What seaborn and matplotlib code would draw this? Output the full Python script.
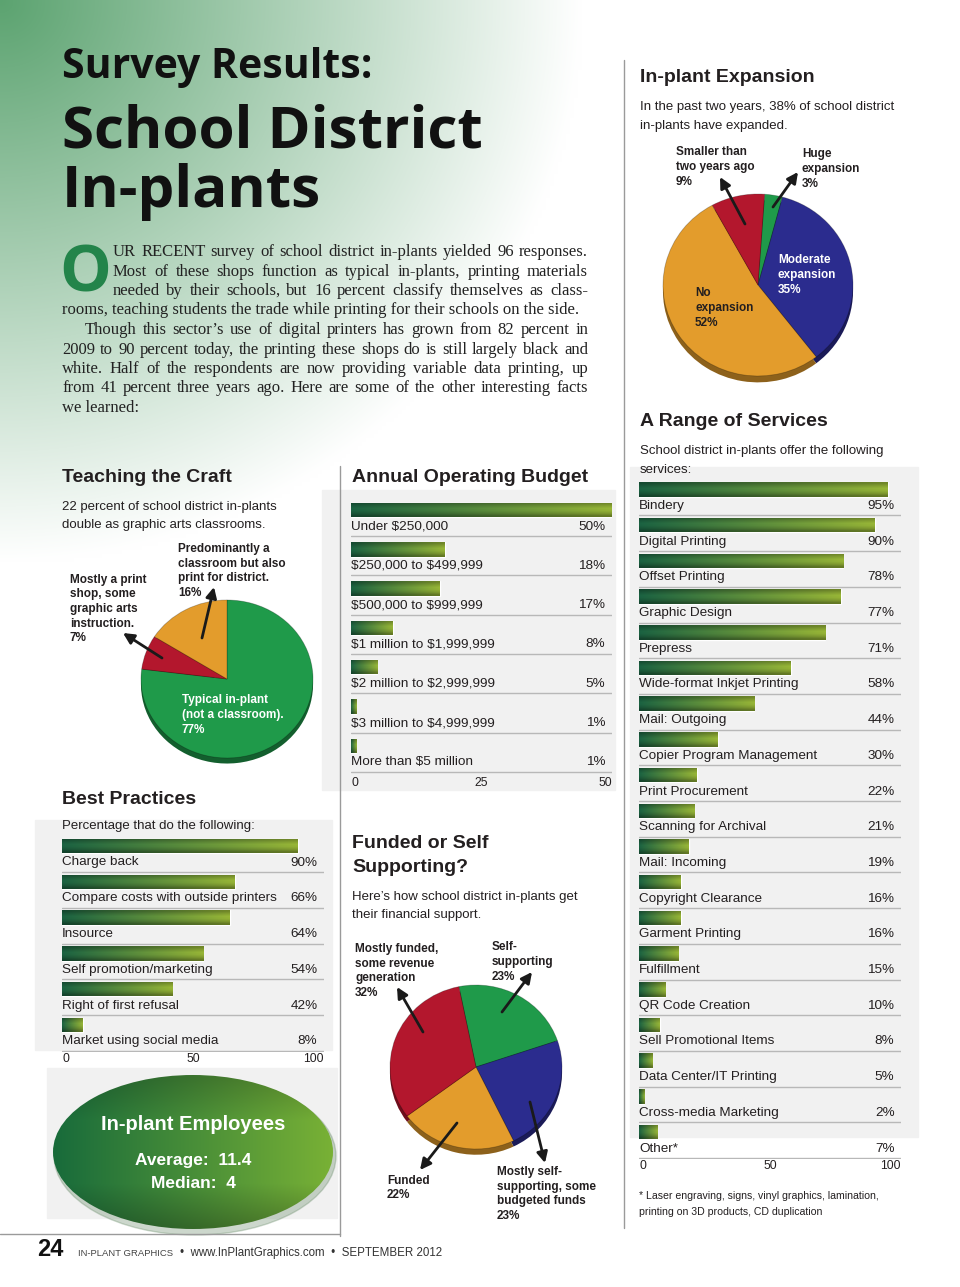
import numpy as np
import matplotlib
matplotlib.use("Agg")
import matplotlib.pyplot as plt
import matplotlib.transforms as mtransforms
import seaborn as sns
from matplotlib.patches import Rectangle, Ellipse

W, H = 960, 1287

# ---- data ----
expansion_labels = ["Huge expansion", "Moderate expansion", "No expansion", "Smaller than two years ago"]
expansion_values = [3, 35, 52, 9]

craft_labels = ["Typical in-plant", "Mostly a print shop", "Predominantly a classroom"]
craft_values = [77, 7, 16]

funding_labels = ["Self-supporting", "Mostly self-supporting", "Funded", "Mostly funded"]
funding_values = [23, 23, 22, 32]

budget_labels = ["Under $250,000", "$250,000 to $499,999", "$500,000 to $999,999",
                 "$1 million to $1,999,999", "$2 million to $2,999,999",
                 "$3 million to $4,999,999", "More than $5 million"]
budget_values = [50, 18, 17, 8, 5, 1, 1]
budget_ticks = [0, 25, 50]

practice_labels = ["Charge back", "Compare costs with outside printers", "Insource",
                   "Self promotion/marketing", "Right of first refusal", "Market using social media"]
practice_values = [90, 66, 64, 54, 42, 8]
practice_ticks = [0, 50, 100]

service_labels = ["Bindery", "Digital Printing", "Offset Printing", "Graphic Design", "Prepress",
                  "Wide-format Inkjet Printing", "Mail: Outgoing", "Copier Program Management",
                  "Print Procurement", "Scanning for Archival", "Mail: Incoming",
                  "Copyright Clearance", "Garment Printing", "Fulfillment", "QR Code Creation",
                  "Sell Promotional Items", "Data Center/IT Printing", "Cross-media Marketing", "Other*"]
service_values = [95, 90, 78, 77, 71, 58, 44, 30, 22, 21, 19, 16, 16, 15, 10, 8, 5, 2, 7]
service_ticks = [0, 50, 100]

sns.set_theme(style="white")
SANS = ["Liberation Sans", "DejaVu Sans"]
SERIF = ["Liberation Serif", "DejaVu Serif"]
DISPLAY = ["Open Sans", "DejaVu Sans"]
plt.rcParams["font.family"] = SANS
INK = "#231f20"

fig = plt.figure(figsize=(W / 100, H / 100), dpi=100)
renderer = fig.canvas.get_renderer()


def add_ax(x0, y0, x1, y1, z=1):
    return fig.add_axes([x0 / W, 1 - y1 / H, (x1 - x0) / W, (y1 - y0) / H], zorder=z)


# background with the green wash in the top-left corner
bg = add_ax(0, 0, W, H, z=0)
yy, xx = np.mgrid[0:H:4, 0:W:4]
d = np.sqrt((xx / 580.0) ** 2 + (yy / 560.0) ** 2)
a = np.clip(1 - d, 0, 1)
green = np.array([0.36, 0.64, 0.44])
img = 1 - a[..., None] * (1 - green)
bg.imshow(img, extent=[0, W, H, 0], aspect="auto", interpolation="bilinear")
for (x0, y0, w, h) in [(322, 490, 293, 300), (35, 820, 297, 230), (630, 467, 288, 670), (47, 1068, 290, 150)]:
    bg.add_patch(Rectangle((x0, y0), w, h, color="#f1f1f1", zorder=1))
bg.set_xlim(0, W)
bg.set_ylim(H, 0)
bg.axis("off")

ov = add_ax(0, 0, W, H, z=6)
ov.set_xlim(0, W)
ov.set_ylim(H, 0)
ov.patch.set_alpha(0)
ov.axis("off")


def T(x, y, s, size, family=SANS, weight="normal", color=INK, ha="left", va="center", **kw):
    return ov.text(x, y, s, fontsize=size, family=family, weight=weight, color=color, ha=ha, va=va,
                   parse_math=False, **kw)


def justify(x0, x1, y, line, size, family=SERIF, color="#222"):
    words = line.split(" ")
    texts = [T(0, y, w, size, family=family, color=color) for w in words]
    widths = [t.get_window_extent(renderer).width for t in texts]
    gap = (x1 - x0 - sum(widths)) / max(len(words) - 1, 1)
    x = x0
    for t, w in zip(texts, widths):
        t.set_x(x)
        x += w + gap


def arrow(x0, y0, x1, y1):
    ov.annotate("", xy=(x1, y1), xytext=(x0, y0),
                arrowprops=dict(arrowstyle="-|>", color="#1a1a1a", lw=2.0, mutation_scale=16,
                                shrinkA=0, shrinkB=0))


def bar_gradient(n=64):
    t = np.linspace(0, 1, n)
    c0 = np.array([0.10, 0.36, 0.24])
    c1 = np.array([0.55, 0.66, 0.20])
    row = c0[None, :] * (1 - t[:, None]) + c1[None, :] * t[:, None]
    shade = np.array([0.80, 0.95, 1.08, 1.05, 0.92, 0.72])
    return np.clip(shade[:, None, None] * row[None, :, :], 0, 1)


def bar_panel(x0, x1, first_bar_y, pitch, labels, values, xmax, ticks, size=9.7):
    n = len(labels)
    top = first_bar_y - 0.5 * pitch
    bottom = top + (n + 0.25) * pitch
    ax = add_ax(x0, top, x1, bottom, z=2)
    sns.barplot(x=values, y=labels, orient="h", width=14.5 / pitch, color="#3f7d3a", ax=ax)
    grad = bar_gradient()
    for p in ax.patches:
        im = ax.imshow(grad, extent=[p.get_x(), p.get_x() + p.get_width(),
                                     p.get_y() + p.get_height(), p.get_y()],
                       aspect="auto", interpolation="bilinear", zorder=3)
        im.set_clip_path(p)
    toff = 16.5 / pitch
    loff = 26 / pitch
    tr = mtransforms.blended_transform_factory(ax.transAxes, ax.transData)
    for i, (lab, v) in enumerate(zip(labels, values)):
        ax.text(0, i + toff, lab, ha="left", va="center", fontsize=size, color=INK, parse_math=False)
        ax.text(0.975, i + toff, f"{v}%", ha="right", va="center", fontsize=size,
                color=INK, transform=tr)
        ax.plot([0, xmax], [i + loff, i + loff], color="#b8b8b8", lw=1.0, zorder=2)
    ax.set_xlim(0, xmax)
    ax.set_ylim(n - 1 + 0.75, -0.5)
    ax.set_yticks([])
    ax.set_ylabel("")
    ax.set_xticks(ticks)
    ax.set_xticklabels([str(t) for t in ticks], fontsize=size - 1, color=INK)
    labs = ax.get_xticklabels()
    labs[0].set_ha("left")
    labs[-1].set_ha("right")
    ax.tick_params(axis="x", length=0, pad=1)
    for s in ax.spines.values():
        s.set_visible(False)
    ax.patch.set_alpha(0)
    return ax


def pie_panel(cx, cy, rx, ry, values, colors, start):
    # slightly flattened pies with a dark rim underneath, as on the printed page
    ax = add_ax(cx - rx * 1.1, cy - ry * 1.1, cx + rx * 1.1, cy + ry * 1.1, z=3)
    dark = [tuple(np.array(matplotlib.colors.to_rgb(c)) * 0.62) for c in colors]
    ax.pie(values, colors=dark, startangle=start, counterclock=False, center=(0, -0.07),
           wedgeprops=dict(linewidth=0))
    ax.pie(values, colors=colors, startangle=start, counterclock=False,
           wedgeprops=dict(linewidth=0.6, edgecolor=(0, 0, 0, 0.25)))
    ax.set_aspect("auto")
    ax.set_xlim(-1.1, 1.1)
    ax.set_ylim(-1.1, 1.1)
    ax.axis("off")
    return ax


def pie_note(x, y, s, color=INK):
    T(x, y, s, 8.5, weight="bold", color=color, linespacing=1.3)


RED, ORANGE, BLUE, GREEN = "#b3172d", "#e39c2c", "#2b2c8e", "#1f9a4a"
HEAD = 14

# ---- title and intro ----
T(62, 68, "Survey Results:", 29.5, family=DISPLAY, weight="bold", color="#111")
T(62, 133, "School District", 42, family=DISPLAY, weight="bold", color="#111")
T(62, 192, "In-plants", 42, family=DISPLAY, weight="bold", color="#111")

T(59, 292, "O", 47, family=DISPLAY, weight="bold", color="#23844a", va="baseline")
body = [
    (113, 588, "UR RECENT survey of school district in-plants yielded 96 responses."),
    (113, 588, "Most of these shops function as typical in-plants, printing materials"),
    (113, 588, "needed by their schools, but 16 percent classify themselves as class-"),
    (62, None, "rooms, teaching students the trade while printing for their schools on the side."),
    (85, 588, "Though this sector\u2019s use of digital printers has grown from 82 percent in"),
    (62, 588, "2009 to 90 percent today, the printing these shops do is still largely black and"),
    (62, 588, "white. Half of the respondents are now providing variable data printing, up"),
    (62, 588, "from 41 percent three years ago. Here are some of the other interesting facts"),
    (62, None, "we learned:"),
]
for k, (x, x_end, line) in enumerate(body):
    y = 252 + k * 19.5
    if x_end is None:
        T(x, y, line, 12, family=SERIF, color="#222")
    else:
        justify(x, x_end, y, line, 12)

# dividers and footer
ov.plot([624, 624], [60, 1228], color="#9a9a9a", lw=1.0)
ov.plot([340, 340], [466, 1236], color="#9a9a9a", lw=1.0)
ov.plot([0, 340], [1234, 1234], color="#9a9a9a", lw=1.0)
T(37, 1250, "24", 17, weight="bold", color="#111")
T(78, 1253, "IN-PLANT GRAPHICS", 6.8, color="#444")
T(180, 1253, "\u2022  www.InPlantGraphics.com  \u2022  SEPTEMBER 2012", 8.3, color="#333")

# ---- In-plant Expansion ----
T(640, 78, "In-plant Expansion", HEAD, weight="bold")
T(640, 107, "In the past two years, 38% of school district", 9.5)
T(640, 126, "in-plants have expanded.", 9.5)
pie_panel(758, 285, 95, 91, expansion_values, [GREEN, BLUE, ORANGE, RED], 86)
pie_note(676, 167, "Smaller than\ntwo years ago\n9%")
pie_note(802, 169, "Huge\nexpansion\n3%")
pie_note(778, 275, "Moderate\nexpansion\n35%", color="white")
pie_note(695, 308, "No\nexpansion\n52%")
arrow(745, 224, 720, 177)
arrow(773, 207, 798, 172)

# ---- Teaching the Craft ----
T(62, 478, "Teaching the Craft", HEAD, weight="bold")
T(62, 507, "22 percent of school district in-plants", 9.5)
T(62, 525, "double as graphic arts classrooms.", 9.5)
pie_panel(227, 679, 86, 79, craft_values, [GREEN, RED, ORANGE], 90)
pie_note(178, 571, "Predominantly a\nclassroom but also\nprint for district.\n16%")
pie_note(70, 609, "Mostly a print\nshop, some\ngraphic arts\ninstruction.\n7%")
pie_note(182, 715, "Typical in-plant\n(not a classroom).\n77%", color="white")
arrow(202, 638, 214, 587)
arrow(162, 658, 123, 633)

# ---- Annual Operating Budget ----
T(352, 478, "Annual Operating Budget", HEAD, weight="bold")
bar_panel(351, 612, 510, 39.3, budget_labels, budget_values, 50, budget_ticks)

# ---- Best Practices ----
T(62, 800, "Best Practices", HEAD, weight="bold")
T(62, 826, "Percentage that do the following:", 9.5)
bar_panel(62, 324, 846, 35.8, practice_labels, practice_values, 100, practice_ticks)

# ---- A Range of Services ----
T(640, 422, "A Range of Services", HEAD, weight="bold")
T(640, 451, "School district in-plants offer the following", 9.5)
T(640, 470, "services:", 9.5)
bar_panel(639, 901, 489.5, 35.7, service_labels, service_values, 100, service_ticks)
T(639, 1196, "* Laser engraving, signs, vinyl graphics, lamination,", 7.6)
T(639, 1212, "printing on 3D products, CD duplication", 7.6)

# ---- Funded or Self Supporting? ----
T(352, 843, "Funded or Self", HEAD, weight="bold")
T(352, 868, "Supporting?", HEAD, weight="bold")
T(352, 897, "Here\u2019s how school district in-plants get", 9.5)
T(352, 915, "their financial support.", 9.5)
pie_panel(476, 1067, 86, 82, funding_values, [GREEN, BLUE, ORANGE, RED], 101.5)
pie_note(355, 971, "Mostly funded,\nsome revenue\ngeneration\n32%")
pie_note(492, 962, "Self-\nsupporting\n23%")
pie_note(387, 1188, "Funded\n22%")
pie_note(497, 1194, "Mostly self-\nsupporting, some\nbudgeted funds\n23%")
arrow(423, 1032, 397, 987)
arrow(502, 1012, 532, 972)
arrow(457, 1123, 420, 1170)
arrow(530, 1102, 545, 1163)

# ---- In-plant Employees badge ----
t = np.linspace(0, 1, 128)
c0 = np.array([0.09, 0.40, 0.22])
c1 = np.array([0.45, 0.66, 0.20])
egrad = (c0[None, :] * (1 - t[:, None]) + c1[None, :] * t[:, None])[None, :, :].repeat(32, axis=0)
vshade = np.concatenate([np.linspace(0.85, 1.05, 10), np.ones(12) * 1.05, np.linspace(1.05, 0.78, 10)])
egrad = np.clip(egrad * vshade[:, None, None], 0, 1)
ov.add_patch(Ellipse((195, 1156), 282, 158, color="#6d8f6d", alpha=0.35, zorder=1))
ell = Ellipse((193, 1152), 280, 154, facecolor="none", edgecolor="none")
ov.add_patch(ell)
eim = ov.imshow(egrad, extent=[53, 333, 1229, 1075], aspect="auto", interpolation="bilinear", zorder=2)
eim.set_clip_path(ell)
ov.set_xlim(0, W)
ov.set_ylim(H, 0)
T(193, 1125, "In-plant Employees", 14.5, weight="bold", color="white", ha="center", zorder=4)
T(193, 1161, "Average:  11.4", 12.5, weight="bold", color="white", ha="center", zorder=4)
T(193, 1183, "Median:  4", 12.5, weight="bold", color="white", ha="center", zorder=4)

fig.savefig("out.png", dpi=100)
